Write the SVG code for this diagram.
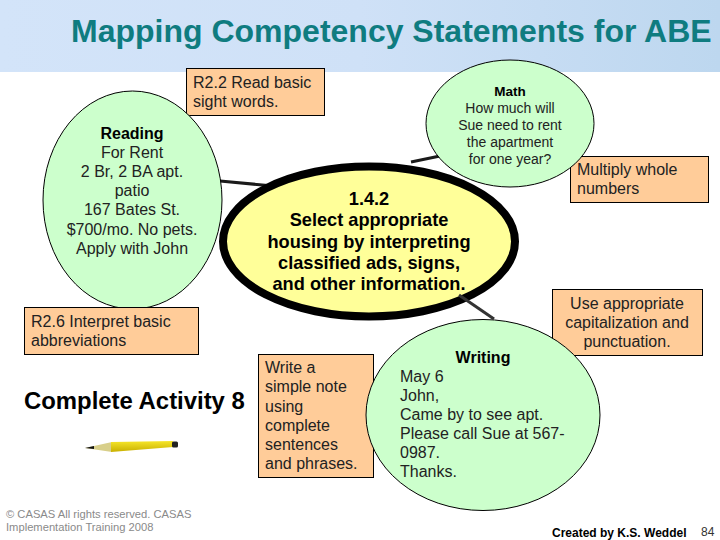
<svg xmlns="http://www.w3.org/2000/svg" width="720" height="540" viewBox="0 0 720 540">
<style>
text{font-family:"Liberation Sans",Arial,sans-serif;fill:#222}
.t{font-size:16px}
.m{font-size:14px}
.c{text-anchor:middle}
.b{font-weight:bold;fill:#000}
.k{font-size:18.200px;font-weight:bold;fill:#000;text-anchor:middle}
.box{fill:#ffcc99;stroke:#000;stroke-width:1}
.oval{fill:#ccffcc;stroke:#000;stroke-width:1}
.conn{stroke:#1a1a1a;stroke-width:3;fill:none}
</style>
<defs>
<linearGradient id="hdr" x1="0" y1="0" x2="1" y2="0">
<stop offset="0" stop-color="#d3e4f9"/><stop offset="0.5" stop-color="#cfe1f7"/><stop offset="1" stop-color="#bdd7ef"/>
</linearGradient>
<linearGradient id="pen" x1="0" y1="0" x2="0" y2="1">
<stop offset="0" stop-color="#f6e62a"/><stop offset="1" stop-color="#c9b000"/>
</linearGradient>
</defs>
<rect id="header" x="0" y="0" width="720" height="72" fill="url(#hdr)"/>
<text id="title" x="71" y="42" font-size="32" font-weight="bold" style="fill:#0f7c80">Mapping Competency Statements for ABE</text>

<g id="r22"><rect class="box" x="186.500" y="68.500" width="138" height="47"/>
<text class="t" x="193" y="88">R2.2 Read basic</text><text class="t" x="193" y="107">sight words.</text></g>
<g id="multiply"><rect class="box" x="570.500" y="156.500" width="138" height="46"/>
<text class="t" x="577" y="175">Multiply whole</text><text class="t" x="577" y="194">numbers</text></g>
<g id="use"><rect class="box" x="552.500" y="289.500" width="150" height="66"/>
<text class="t c" x="627" y="309">Use appropriate</text><text class="t c" x="627" y="328">capitalization and</text><text class="t c" x="627" y="347">punctuation.</text></g>
<g id="writeBox"><rect class="box" x="258.500" y="354.500" width="115" height="123"/>
<text class="t" x="265" y="373">Write a</text><text class="t" x="265" y="392">simple note</text><text class="t" x="265" y="412">using</text><text class="t" x="265" y="431">complete</text><text class="t" x="265" y="450">sentences</text><text class="t" x="265" y="469">and phrases.</text></g>

<g id="connectors">
<line class="conn" x1="220" y1="181" x2="268" y2="185.500"/>
<line class="conn" x1="411" y1="162" x2="440" y2="156"/>
</g>

<g id="reading"><ellipse class="oval" cx="132.500" cy="200" rx="89.500" ry="109"/>
<text class="t c b" x="132" y="139">Reading</text>
<text class="t c" x="132" y="158">For Rent</text><text class="t c" x="132" y="177">2 Br, 2 BA apt.</text><text class="t c" x="132" y="196">patio</text><text class="t c" x="132" y="215">167 Bates St.</text><text class="t c" x="132" y="235">$700/mo. No pets.</text><text class="t c" x="132" y="254">Apply with John</text></g>
<g id="r26"><rect class="box" x="24.500" y="307.500" width="174" height="47"/>
<text class="t" x="31" y="327">R2.6 Interpret basic</text><text class="t" x="31" y="346">abbreviations</text></g>
<g id="math"><ellipse class="oval" cx="510" cy="123.500" rx="84" ry="63.500"/>
<text class="c b" font-size="13.500" x="510" y="96">Math</text>
<text class="m c" x="510" y="113">How much will</text><text class="m c" x="510" y="130">Sue need to rent</text><text class="m c" x="510" y="147">the apartment</text><text class="m c" x="510" y="164">for one year?</text></g>
<g id="competency"><ellipse cx="369" cy="241.500" rx="146" ry="75" fill="#ffff99" stroke="#000" stroke-width="8"/>
<text class="k" x="369" y="205">1.4.2</text>
<text class="k" x="369" y="226">Select appropriate</text>
<text class="k" x="369" y="248">housing by interpreting</text>
<text class="k" x="369" y="269">classified ads, signs,</text>
<text class="k" x="369" y="290">and other information.</text></g>
<g id="writing"><ellipse class="oval" cx="483" cy="415" rx="117" ry="95.500"/>
<text class="t c b" x="483" y="363">Writing</text>
<text class="t" x="400" y="382">May 6</text><text class="t" x="400" y="401">John,</text><text class="t" x="400" y="420">Came by to see apt.</text><text class="t" x="400" y="439">Please call Sue at 567-</text><text class="t" x="400" y="458">0987.</text><text class="t" x="400" y="477">Thanks.</text></g>
<g id="connector-writing"><line x1="459" y1="295" x2="494" y2="319" stroke="#333" stroke-width="3"/></g>

<text id="activity" x="24" y="409" font-size="23.900" font-weight="bold" style="fill:#000">Complete Activity 8</text>
<g id="pencil">
<polygon points="85,448 112,442 112,452" fill="#d8cf8a"/>
<polygon points="85,448 94,446 94,449" fill="#111"/>
<polygon points="111,442 173,441 173,447 111,452" fill="url(#pen)"/>
<rect x="172" y="441.500" width="6" height="6" rx="1.500" fill="#222"/>
</g>
<text id="copyright" font-size="11.200" style="fill:#8a8a8a"><tspan x="6" y="518">© CASAS All rights reserved.  CASAS</tspan><tspan x="6" y="531">Implementation Training 2008</tspan></text>
<text id="credit" x="552" y="537" font-size="12" font-weight="bold" style="fill:#000">Created by K.S. Weddel</text>
<text id="page" x="701" y="536" font-size="12" style="fill:#333">84</text>
</svg>
